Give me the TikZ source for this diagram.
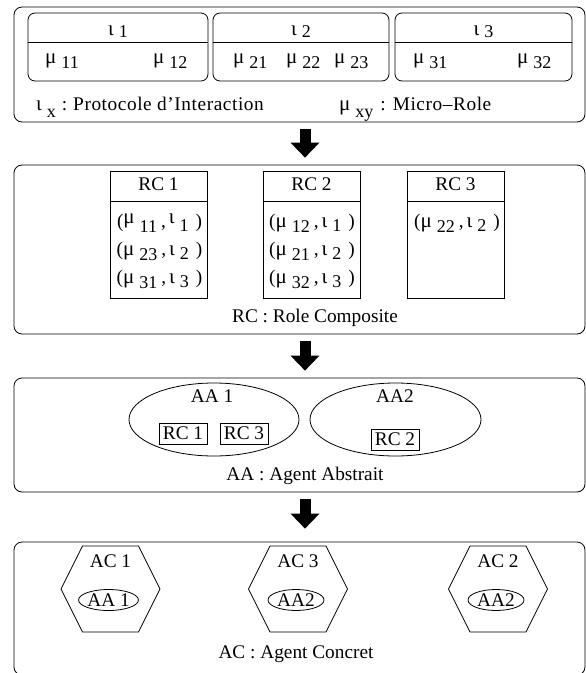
\documentclass[tikz,border=0pt]{standalone}
\usepackage{fontspec}
\setmainfont{Liberation Serif}
\usetikzlibrary{arrows.meta,shapes.geometric}

\newcommand\subf{\fontsize{18}{18}\selectfont}
\newcommand\gmu{{\fontsize{21}{21}\selectfont μ}}
\newcommand\giota{{\fontsize{21}{21}\selectfont ι}}
\newcommand\lsub[2][5pt]{\hspace{5pt}\raisebox{-#1}{\subf #2}}
\newcommand\rcpair[3][0pt]{(\raisebox{#1}{\gmu}\lsub{#2}\hspace{4pt},\hspace{3pt}\raisebox{#1}{\giota}\lsub[4pt]{#3}\hspace{7pt})}

\begin{document}
\begin{tikzpicture}[x=1pt, y=-1pt,
        font=\fontsize{19.3}{23}\selectfont,
        levelbox/.style={draw, rounded corners=8pt, line width=0.8pt, inner sep=0pt},
        protobox/.style={draw, rounded corners=7pt, line width=0.8pt},
        rcbox/.style={draw, line width=0.8pt},
        smallbox/.style={draw, line width=0.8pt, inner sep=2pt, minimum width=48pt, minimum height=21pt},
        txt/.style={anchor=base, inner sep=0pt},
        ltxt/.style={anchor=base west, inner sep=0pt},
        bigarrow/.style={line width=11pt, -{Triangle[width=29pt,length=15pt,line width=0pt]},
            shorten <=7pt, shorten >=7pt}
    ]
    \useasboundingbox (0,0) rectangle (586,673);

    % the four levels
    \node[levelbox, minimum width=571pt, minimum height=115pt] (protos) at (299.5,64.5) {};
    \node[levelbox, minimum width=571pt, minimum height=169pt] (roles) at (299.5,249.5) {};
    \node[levelbox, minimum width=571pt, minimum height=114pt] (abstr) at (299.5,435) {};
    \node[levelbox, minimum width=571pt, minimum height=133pt] (concr) at (299.5,608.5) {};

    \coordinate (ax) at (305,0);
    \draw[bigarrow] (protos.south -| ax) -- (roles.north -| ax);
    \draw[bigarrow] (roles.south -| ax) -- (abstr.north -| ax);
    \draw[bigarrow, shorten >=13pt] (abstr.south -| ax) -- (concr.north -| ax);

    % interaction protocols
    \foreach \xl/\xr/\k in {28/208/1, 213/389/2, 395/572/3} {
        \draw[protobox] (\xl,13) rectangle (\xr,81);
        \draw[line width=0.8pt] (\xl,42) -- (\xr,42);
        \node[txt] (iota\k) at ({(\xl+\xr)/2},35) {\giota\lsub[2.5pt]{\k}};
    }
    \foreach \mx/\ij in {45/11, 153/12, 233/21, 286/22, 334/23, 413/31, 517/32}
        \node[ltxt] (mu\ij) at (\mx,63) {\gmu\lsub{\ij}};
    \node[ltxt] (legiota) at (36,110)
        {\giota\lsub[7pt]{x}\hspace{6pt}:\hspace{6pt}{\addfontfeature{LetterSpace=3}Protocole d'Interaction}};
    \node[ltxt] (legmu) at (339,110)
        {\gmu\lsub[7pt]{xy}\hspace{7pt}:\hspace{7pt}{\addfontfeature{LetterSpace=3}Micro--Role}};

    % composite roles
    \foreach \xl/\k in {110/1, 263/2, 407/3} {
        \draw[rcbox] (\xl,171) rectangle ++(97,127);
        \draw[rcbox] (\xl,201) -- ++(97,0);
        \node[txt] (rc\k) at (\xl+48.5,190) {RC \k};
    }
    \node[txt] (pair1) at (159.5,227) {\rcpair[4pt]{11}{1}};
    \foreach \cx/\cy/\mi/\ii [count=\n from 2] in {159.5/255/23/2, 159.5/283/31/3,
            312/227/12/1, 312/255/21/2, 312/283/32/3, 457/227/22/2}
        \node[txt] (pair\n) at (\cx,\cy) {\rcpair{\mi}{\ii}};
    \node[txt] (rcnote) at (315,322) {RC : Role Composite};

    % abstract agents
    \node[draw, ellipse, line width=0.8pt, minimum width=170pt, minimum height=73pt] (aa1) at (214,419.5) {};
    \node[draw, ellipse, line width=0.8pt, minimum width=171pt, minimum height=73pt] (aa2) at (395.5,419.5) {};
    \node[txt] (aa1t) at (212,402) {AA 1};
    \node[txt] (aa2t) at (395,402) {AA2};
    \node[smallbox] (aarc1) at (183,433.5) {RC 1};
    \node[smallbox] (aarc3) at (244,433.5) {RC 3};
    \node[smallbox] (aarc2) at (395,439.5) {RC 2};
    \node[txt] (aanote) at (305,480) {AA : Agent Abstrait};

    % concrete agents
    \foreach \hx/\ac/\aa [count=\n] in {110.5/AC 1/AA 1, 298/AC 3/AA2, 498/AC 2/AA2} {
        \draw[line width=0.8pt] (\hx-49.5,589) -- (\hx-28,546) -- (\hx+28,546)
            -- (\hx+49.5,589) -- (\hx+28,632) -- (\hx-28,632) -- cycle;
        \node[txt] (ac\n) at (\hx,567) {\ac};
        \node[draw, ellipse, inner sep=0pt, line width=0.8pt, minimum width=56pt,
            minimum height=21pt] (acaa\n) at (\hx-2,600) {\aa};
    }
    \node[txt] (acnote) at (296,658) {AC : Agent Concret};
\end{tikzpicture}
\end{document}
